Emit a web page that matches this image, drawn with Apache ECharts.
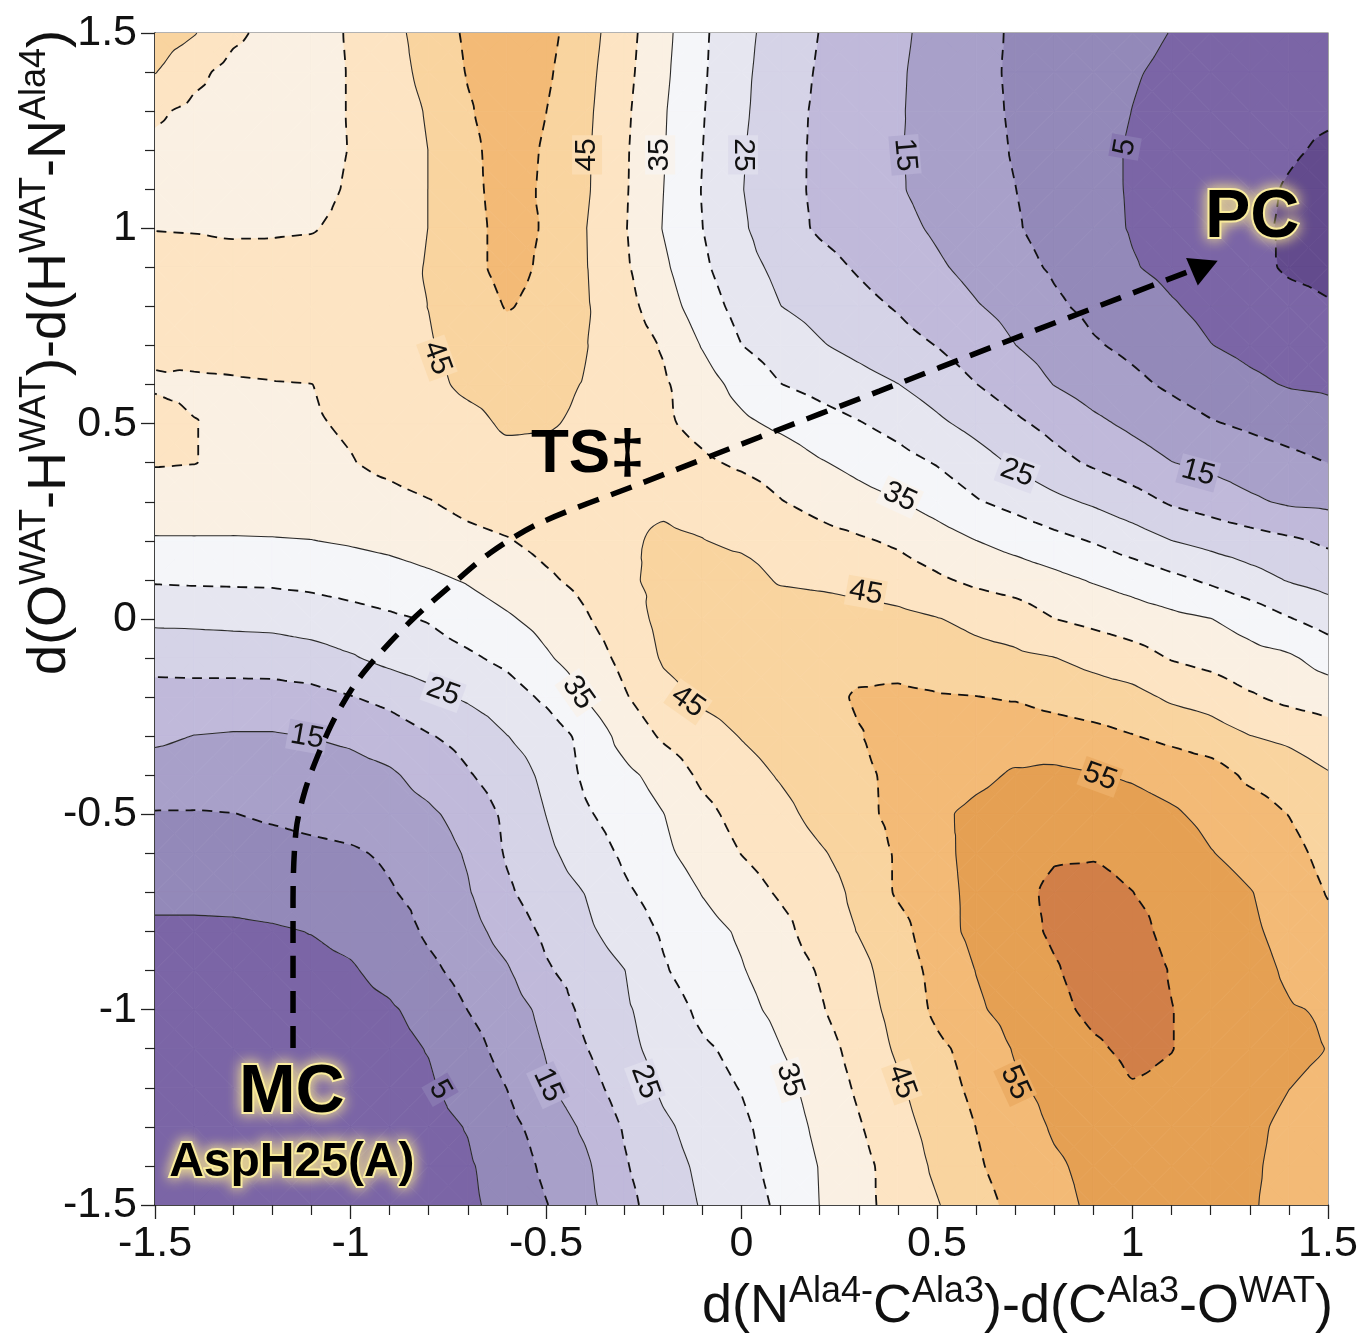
<!DOCTYPE html>
<html><head><meta charset="utf-8">
<script src="https://cdn.jsdelivr.net/npm/echarts@6/dist/echarts.min.js"></script>
<style>html,body{margin:0;padding:0;background:#fff}#c{width:1363px;height:1334px}</style>
</head><body><div id="c"></div>
<script>
// ---- grid coordinates (data units) ----
const gridX = [-1.5,-1.4,-1.3,-1.2,-1.1,-1.0,-0.9,-0.8,-0.7,-0.6,-0.5,-0.4,-0.3,-0.2,-0.1,0.0,0.1,0.2,0.3,0.4,0.5,0.6,0.7,0.8,0.9,1.0,1.1,1.2,1.3,1.4,1.5];
const gridY = [1.5,1.4,1.3,1.2,1.1,1.0,0.9,0.8,0.7,0.6,0.5,0.4,0.3,0.2,0.1,0.0,-0.1,-0.2,-0.3,-0.4,-0.5,-0.6,-0.7,-0.8,-0.9,-1.0,-1.1,-1.2,-1.3,-1.4,-1.5];
const e_p150 = [47.5,45.3,41,38.5,37.8,40.5,43.5,47,50.8,52.8,51.5,47.1,41.9,36.4,30.8,26.3,22.9,19.9,17.8,15.8,13.6,11.2,9.5,8.3,7.2,6.0,4.9,4.0,3.3,2.8,2.5];
const e_p140 = [45.2,41.2,38.5,37.5,37.8,40.3,43.2,46.3,50.3,52.5,50.8,46.5,41.5,36.0,30.6,26.0,22.45,19.5,17.5,15.5,13.4,11.2,9.36,8.0,6.6,5.3,4.3,3.2,2.2,1.5,1.2];
const e_p130 = [40.7,39,38,37.4,37.8,40.3,42.75,45.4,49.5,52.5,50.05,46.1,41.0,35.5,30.3,25.8,22.0,19.2,17.3,15.4,13.3,11.3,9.5,7.9,6.4,4.95,3.8,2.6,1.6,0.8,0.5];
const e_p120 = [39,38.2,37.6,37.4,38,40.2,42.5,45.05,48.7,52.3,49.5,45.8,40.7,35.3,30.05,25.4,21.8,19.1,17.2,15.3,13.5,11.5,9.7,7.8,6.2,4.6,3.3,2.2,1.3,0.4,-0.5];
const e_p110 = [38.6,38,37.5,37.5,38.3,40.6,42.8,45.05,48.6,52,49.3,45.7,40.6,35.05,29.8,25.2,21.7,19.1,17.2,15.4,13.5,11.5,10.05,8.2,6.3,4.6,3.3,2.2,1.0,-0.3,-1.3];
const e_p100 = [39.9,39.8,39.5,39.5,39.7,41.2,42.9,45.05,48.3,51.7,49.6,45.2,40.4,34.8,30.05,25.7,21.9,19.4,17.8,16.2,14.4,12.4,10.4,8.4,6.5,4.7,3.4,2.1,0.8,-0.5,-1.5];
const e_p090 = [41.3,41.3,41.3,41.5,41.8,42.3,43.3,45.3,48.5,51.5,49.2,45.3,40.8,35.9,30.9,26.7,23.8,21.6,19.5,17.5,15.6,13.7,11.5,9.4,7.5,5.3,3.9,2.6,1.2,-0.5,-1.0];
const e_p080 = [41.7,42,42,42,42.3,42.8,43.8,45.05,47.3,50.3,48.8,45.5,41.7,37.3,32.5,28.2,25.05,23.4,21.4,19.6,17.3,15.3,13.6,10.8,8.8,7.3,5.4,3.8,2.5,1.3,0.3];
const e_p070 = [40.5,41,41.3,41.7,42.2,42.8,43.7,44.7,46.2,47.8,47.5,45.2,42.6,39.6,34.7,30.05,27.7,25.4,23.6,21.7,19.9,17.5,15.05,13.2,10.5,8.9,7.1,5.1,3.9,2.9,2.2];
const e_p060 = [39.7,39.5,39.6,39.8,39.95,41.3,42.5,44,45.8,46.5,46.2,44.8,42.6,40.6,37.2,33.3,30.1,28.5,26.8,25.1,22.8,20.1,17.5,14.9,12.9,11.1,9.2,7.4,5.9,4.7,4.3];
const e_p050 = [41,40.1,39.3,39.3,39.6,40.5,41.7,42.8,43.8,45.6,45.4,44.3,42.5,40.8,38.5,36,34.0,32,30.3,28.4,25.9,23.5,20.9,18.5,16,14.05,12.2,10.4,9.2,8,6.9];
const e_p040 = [40.3,40.1,39,38.8,38.9,39.8,41,42.2,43.0,43.6,43.6,43.4,43.2,42.6,40.8,39.2,37.9,35.4,33.6,31.7,29.7,27.1,24.3,21.6,19.3,17.2,15.1,13.9,12.6,11.3,9.95];
const e_p030 = [37.6,37.7,37.6,37.6,37.8,38.2,38.8,39.8,41.3,42.4,43.3,43.9,44.4,44.5,43.8,42.7,40.2,38.5,36.7,35.3,33,30.4,28.5,26.2,24.3,22,19.4,17.8,15.8,14.3,13.9];
const e_p020 = [34.6,34.6,34.6,34.7,34.9,35.5,36.3,37.4,38.7,39.7,41.3,42.8,44.5,45.5,45.1,44.3,43.3,41.7,40.6,39.3,37.2,35.05,33.3,31.5,29.7,27.5,25.05,23.5,22.2,20.8,19.2];
const e_p010 = [30.5,30.7,30.8,30.9,31.3,32.0,32.8,34.0,35.4,37.3,39.3,41.2,44.3,46,46.8,46.5,44.6,44.2,43.5,42.3,40.7,39.0,37.8,36.3,34.6,33.1,31.2,29.2,26.9,24.7,23.2];
const e_000 = [26,26.1,26.3,26.5,27.3,28.3,29.3,30.3,32.5,34.4,36.6,39.5,42.7,46.3,47.3,47.7,47.3,47.0,46.8,46.3,45.2,43.8,42.6,40.05,38.7,37.4,36.2,35.1,33.0,30.3,28];
const e_m010 = [21.5,21.8,22.1,22.3,23.0,24.5,26.4,27.8,29.2,31.2,34.4,37.3,41.3,45.5,47.1,47.7,48,48.3,48.8,48.7,47.9,46.6,45.9,45.1,43.6,42,39.7,38.4,36.7,35.7,33];
const e_m020 = [18.4,18.3,18.0,18.0,18.5,19.8,21.3,23.5,25.7,27.7,30.9,35.2,39.5,43.5,45.8,47,47.8,48.8,50.4,50.7,50.3,50.1,49.6,48.4,47.3,46.5,44.2,43,40.6,38.7,37.6];
const e_m030 = [15.9,14.9,14.6,14.6,15.1,15.9,17.5,19.7,21.5,24.9,27.3,31.4,36.7,40.7,43.1,45.2,47,48.5,49.8,51.5,52.4,52.8,53,52.3,51.5,50.2,48.8,47.2,45.1,44.0,42.2];
const e_m040 = [12.8,12.5,12.3,12.3,12.5,13.2,14.3,16.8,19.6,22.3,26.1,30.8,33.8,36.8,41,43.2,45.4,47.5,49.3,50.8,52.5,54,55.5,56,55.3,54.5,53.3,52.3,49.0,47.5,45.4];
const e_m050 = [9.7,9.7,9.9,10.6,11.4,12.0,12.8,14.2,16.8,21,25.05,29.4,32.1,34.9,38.6,41.7,43.7,46.4,48.6,51.3,54.2,56.0,57,57.6,57.5,56.8,55.6,53.8,52.4,49.9,46.8];
const e_m060 = [7.9,7.9,8.0,8.3,8.8,9.4,10.7,12.5,15.5,20.5,23.9,27.3,30.8,34,37.1,40.1,42.3,44.5,46.9,50.6,53.7,56.4,58,59.5,59.6,58.8,57.5,55.2,53.5,51.7,48.3];
const e_m070 = [6.1,6.1,6.2,6.5,7.0,7.8,9.6,11.6,14.6,19.2,22.8,25.1,29.2,32,35.2,37.8,40.6,42.7,46.2,50.6,53.4,56.2,58.5,61,61.5,60.05,58.5,57,55.2,53,49.7];
const e_m080 = [4.2,4.2,4.3,4.6,5.1,6.0,7.4,10.8,13.2,16.9,21.0,24.0,27.2,30.6,33.4,35.6,38.5,42.4,45.2,48.1,53.1,56.2,58.5,60.6,62,61.5,58.7,57.5,55.7,53.7,51.3];
const e_m090 = [3.4,3.4,3.5,3.7,4.0,4.6,6.3,8.9,11.8,14.5,19.4,22.3,24.9,29.5,32.6,34.7,37.3,40.4,43.6,47.4,51.5,55.1,57.5,59.6,61.8,62.5,59.7,58,56.5,54.4,52.5];
const e_m100 = [2.6,2.6,2.7,2.9,3.2,3.7,4.5,6.5,10.05,12.7,16.3,21.3,24.3,27.5,31.1,33.5,36.3,39.5,43,46.5,51,54.3,56.7,58.8,61,62,60.1,58.3,56.8,55.3,54.6];
const e_m110 = [2.0,2.0,2.1,2.3,2.6,3.0,3.7,5.2,8.2,11.7,15.3,19.7,23.7,26.6,29.3,31.3,34.9,37.9,41.8,45.7,49,51.8,55.4,57.3,59.3,61,60.1,58.3,57,56,54.9];
const e_m120 = [1.7,1.7,1.8,1.9,2.2,2.6,3.3,4.4,6.9,10.05,14.3,17.9,22.2,25.8,28.2,30.2,33.4,37.0,40.7,44.3,47.9,51.1,54.3,56.3,57.7,59.7,59.2,57.7,56.5,55.05,54];
const e_m130 = [1.5,1.5,1.6,1.7,2.0,2.3,2.9,3.7,5.2,8.6,12,15.8,20.4,24.2,26.8,29.1,32.3,36.1,39.6,43.3,46.7,50.05,52.8,55.5,56.8,57.5,57.7,57.1,55.8,54.2,53];
const e_m140 = [1.5,1.5,1.5,1.6,1.8,2.1,2.6,3.3,4.5,7.1,11,14.1,19.5,23.4,25.8,28.5,31.6,35.2,38.6,42,45.9,49.4,52.1,54.4,56.1,56.9,57.2,56.7,55.5,54,52.5];
const e_m150 = [1.5,1.5,1.5,1.6,1.8,2.1,2.5,3.1,4.2,6.5,9.8,13.5,18.3,22.8,25.3,27.9,30.8,35.05,38.6,41.7,44.7,48.2,51.2,53.6,55.8,56.5,56.8,56.3,55.3,54,52.5];
const energyRows = [e_p150,e_p140,e_p130,e_p120,e_p110,e_p100,e_p090,e_p080,e_p070,e_p060,e_p050,e_p040,e_p030,e_p020,e_p010,e_000,
  e_m010,e_m020,e_m030,e_m040,e_m050,e_m060,e_m070,e_m080,e_m090,e_m100,e_m110,e_m120,e_m130,e_m140,e_m150];

// ---- contour levels and colours ----
const levels = [0,5,10,15,20,25,30,35,40,45,50,55,60];
const bandColors = ['#634b8d','#7b65a6','#9389b9','#a8a0c9','#c0b9da','#d5d3e7','#e6e6f0','#f5f6f9',
                    '#faf0e3','#fde4c3','#f9d49f','#f3ba76','#e5a053','#d17f48'];

// ---- tick labels ----
const xTickLabels = ['-1.5','-1','-0.5','0','0.5','1','1.5'];
const yTickLabels = ['-1.5','-1','-0.5','0','0.5','1','1.5'];

// ---- contour labels (position in data units, text, angle) ----
const labelX = [-0.779,-0.395,-0.208,0.004,0.418,0.981,0.705,1.168,0.405,0.318,-0.763,-1.111,-0.418,-0.137,0.917,-0.771,-0.495,-0.247,0.124,0.41,0.70];
const labelY = [0.668,1.188,1.188,1.188,1.188,1.208,0.374,0.374,0.312,0.067,-0.187,-0.302,-0.189,-0.212,-0.404,-1.205,-1.193,-1.185,-1.18,-1.185,-1.187];
const labelText = ['45','45','35','25','15','5','25','15','35','45','25','15','35','45','55','5','15','25','35','45','55'];
const labelAngle = [-70,90,90,-90,-85,80,-20,-15,-25,-10,-20,-10,-55,-35,-20,-60,-65,-70,-72,-70,-65];

// ---- reaction path MC -> TS -> PC ----
const pathX = [-1.147,-1.147,-1.139,-1.116,-1.083,-1.040,-0.981,-0.912,-0.835,-0.751,-0.643,-0.515,-0.260,0.047,0.354,0.661,0.968,1.150];
const pathY = [-1.098,-0.719,-0.540,-0.438,-0.348,-0.253,-0.156,-0.074,0.005,0.079,0.169,0.246,0.346,0.466,0.584,0.704,0.822,0.892];
const arrowHead = [1.185, 0.903];

// ---- state annotations ----
const stateNames = ['MC','AspH25(A)','PC','TS‡'];
const stateX = [-1.15,-1.15,1.306,-0.393];
const stateY = [-1.213,-1.392,1.026,0.42];

// ================= helpers =================
function clip(poly, t, keepAbove){
  const out = [];
  for (let k = 0; k < poly.length; k++){
    const a = poly[k], b = poly[(k+1)%poly.length];
    const ain = keepAbove ? a.v >= t : a.v <= t;
    const bin = keepAbove ? b.v >= t : b.v <= t;
    if (ain) out.push(a);
    if (ain !== bin){
      const r = (t - a.v)/(b.v - a.v);
      out.push({x:a.x + r*(b.x-a.x), y:a.y + r*(b.y-a.y), v:t});
    }
  }
  return out;
}
const NX = gridX.length, NY = gridY.length;
function vert(i,j){ return {id:j*NX+i, x:gridX[i], y:gridY[j], v:energyRows[j][i]}; }
function cellTriangles(i,j){
  const tl=vert(i,j), tr=vert(i+1,j), br=vert(i+1,j+1), bl=vert(i,j+1);
  const c={id:100000+j*NX+i, x:(tl.x+tr.x)/2, y:(tl.y+bl.y)/2, v:(tl.v+tr.v+br.v+bl.v)/4};
  return [[tl,tr,c],[tr,br,c],[br,bl,c],[bl,tl,c]];
}
function renderCell(params, api){
  const i = api.value(2), j = api.value(3);
  const children = [];
  for (const t of cellTriangles(i,j)){
    const vmin = Math.min(t[0].v,t[1].v,t[2].v), vmax = Math.max(t[0].v,t[1].v,t[2].v);
    for (let b = 0; b < bandColors.length; b++){
      const lo = b === 0 ? -Infinity : levels[b-1];
      const hi = b === levels.length ? Infinity : levels[b];
      if (vmax < lo || vmin > hi) continue;
      let poly = t;
      if (lo > -Infinity) poly = clip(poly, lo, true);
      if (poly.length < 3) continue;
      if (hi < Infinity) poly = clip(poly, hi, false);
      if (poly.length < 3) continue;
      children.push({type:'polygon', shape:{points: poly.map(p => api.coord([p.x,p.y]))},
        style:{fill:bandColors[b], stroke:bandColors[b], lineWidth:0.9}});
    }
  }
  return {type:'group', children};
}
function contourLines(level){
  const L = level + 1e-7;
  const segs = [];
  for (let j = 0; j < NY-1; j++) for (let i = 0; i < NX-1; i++){
    for (const t of cellTriangles(i,j)){
      const cr = [];
      for (let k = 0; k < 3; k++){
        const p = t[k], q = t[(k+1)%3];
        if ((p.v < L) !== (q.v < L)){
          const r = (L - p.v)/(q.v - p.v);
          cr.push({key: Math.min(p.id,q.id)+'_'+Math.max(p.id,q.id), pt:[p.x + r*(q.x-p.x), p.y + r*(q.y-p.y)]});
        }
      }
      if (cr.length === 2) segs.push(cr);
    }
  }
  const adj = new Map();
  segs.forEach((s, n) => s.forEach(e => { if (!adj.has(e.key)) adj.set(e.key, []); adj.get(e.key).push(n); }));
  const used = new Array(segs.length).fill(false);
  const lines = [];
  function walk(startKey, out, push){
    let key = startKey;
    while (true){
      const cand = (adj.get(key) || []).find(n => !used[n]);
      if (cand === undefined) break;
      used[cand] = true;
      const s = segs[cand];
      const other = s[0].key === key ? s[1] : s[0];
      push ? out.push(other.pt) : out.unshift(other.pt);
      key = other.key;
    }
  }
  for (let n = 0; n < segs.length; n++){
    if (used[n]) continue;
    used[n] = true;
    const line = [segs[n][0].pt, segs[n][1].pt];
    walk(segs[n][1].key, line, true);
    walk(segs[n][0].key, line, false);
    lines.push(line);
  }
  return lines;
}
function hex2rgb(h){ return [1,3,5].map(k => parseInt(h.substr(k,2),16)); }
function blend(a,b){ const A=hex2rgb(a), B=hex2rgb(b); return 'rgb('+A.map((v,k)=>Math.round((v+B[k])/2)).join(',')+')'; }

// ================= series =================
const cells = [];
for (let j = 0; j < NY-1; j++) for (let i = 0; i < NX-1; i++) cells.push([gridX[i], gridY[j], i, j]);

const series = [{
  type:'custom', coordinateSystem:'cartesian2d', data:cells, encode:{x:0, y:1},
  renderItem: renderCell, silent:true, z:1, clip:true
}];
levels.forEach(lv => {
  const dashed = (lv % 10 === 0);
  contourLines(lv).forEach(pts => {
    series.push({type:'line', data:pts, showSymbol:false, symbol:'none', silent:true, z:2, smooth:0.25,
      clip:true,
      lineStyle: dashed ? {color:'#111', width:1.8, type:[10,7]} : {color:'#2b2b2b', width:1.1, type:'solid'}});
  });
});
// reaction path
series.push({type:'line', data:pathX.map((x,k)=>[x,pathY[k]]), showSymbol:false, symbol:'none', silent:true, z:6, smooth:0.3,
  lineStyle:{color:'#000', width:5.5, type:[22,13]}});
series.push({type:'scatter', data:[arrowHead], symbol:'triangle', symbolSize:[30,28], symbolRotate:-67, silent:true, z:6,
  itemStyle:{color:'#000', opacity:1}});
// contour labels
series.push({type:'scatter', silent:true, z:5, symbolSize:0, itemStyle:{opacity:1},
  data: labelX.map((x,k) => {
    const lv = parseInt(labelText[k],10), bi = lv/5;
    return {value:[x,labelY[k]], label:{rotate:labelAngle[k], formatter:labelText[k],
      backgroundColor: blend(bandColors[bi], bandColors[bi+1])}};
  }),
  label:{show:true, position:'inside', fontSize:30, fontFamily:'Liberation Sans', color:'#111', padding:[0,3]}
});
// state annotations
const glow = {color:'#000', fontWeight:'bold', fontFamily:'Liberation Sans', textBorderColor:'#fbefa8', textBorderWidth:4,
  textShadowColor:'#f7e68e', textShadowBlur:14};
series.push({type:'scatter', silent:true, z:7, symbolSize:0, itemStyle:{opacity:1},
  data: stateNames.map((s,k) => {
    let lab;
    if (k === 0 || k === 2) lab = Object.assign({fontSize:68}, glow);
    else if (k === 1) lab = Object.assign({fontSize:48}, glow);
    else lab = {color:'#000', fontWeight:'bold', fontFamily:'Liberation Sans', fontSize:62};
    return {value:[stateX[k], stateY[k]], label:Object.assign({formatter:s}, lab)};
  }),
  label:{show:true, position:'inside'}
});

const titleRich = {
  b:{fontSize:54, fontFamily:'Liberation Sans', fill:'#111', color:'#111', lineHeight:60, verticalAlign:'bottom'},
  s:{fontSize:36, fontFamily:'Liberation Sans', fill:'#111', color:'#111', lineHeight:34, verticalAlign:'top'}
};
const xTitle = '{b|d(N}{s|Ala4-}{b|C}{s|Ala3}{b|)-d(C}{s|Ala3}{b|-O}{s|WAT}{b|)}';
const yTitle = '{b|d(O}{s|WAT}{b|-H}{s|WAT}{b|)-d(H}{s|WAT}{b|-N}{s|Ala4}{b|)}';

const axisCommon = {
  type:'value', min:-1.5, max:1.5, interval:0.5,
  axisLine:{show:true, onZero:false, lineStyle:{color:'#222', width:1.5}},
  axisTick:{show:true, inside:false, length:14, lineStyle:{color:'#222', width:1.3}},
  minorTick:{show:true, splitNumber:5, length:10, lineStyle:{color:'#222', width:1.2}},
  splitLine:{show:false}, minorSplitLine:{show:false}
};
const option = {
  animation:false,
  grid:{left:155, right:35, top:33, bottom:129, show:true, borderColor:'#666', borderWidth:1.2},
  xAxis: Object.assign({}, axisCommon, {axisLabel:{fontSize:43, fontFamily:'Liberation Sans', color:'#111', margin:18,
    formatter: v => xTickLabels[Math.round((v+1.5)/0.5)]}}),
  yAxis: Object.assign({}, axisCommon, {axisLabel:{fontSize:43, fontFamily:'Liberation Sans', color:'#111', margin:18,
    formatter: v => yTickLabels[Math.round((v+1.5)/0.5)]}}),
  series,
  graphic:[
    {type:'text', x:1333, y:1304, silent:true, style:{text:xTitle, rich:titleRich, align:'right', verticalAlign:'middle', fill:'#111'}},
    {type:'text', x:47, y:30, rotation:Math.PI/2, silent:true, style:{text:yTitle, rich:titleRich, align:'right', verticalAlign:'middle', fill:'#111'}}
  ]
};
const chart = echarts.init(document.getElementById('c'), null, {renderer:'canvas'});
chart.setOption(option);
</script>
</body></html>
